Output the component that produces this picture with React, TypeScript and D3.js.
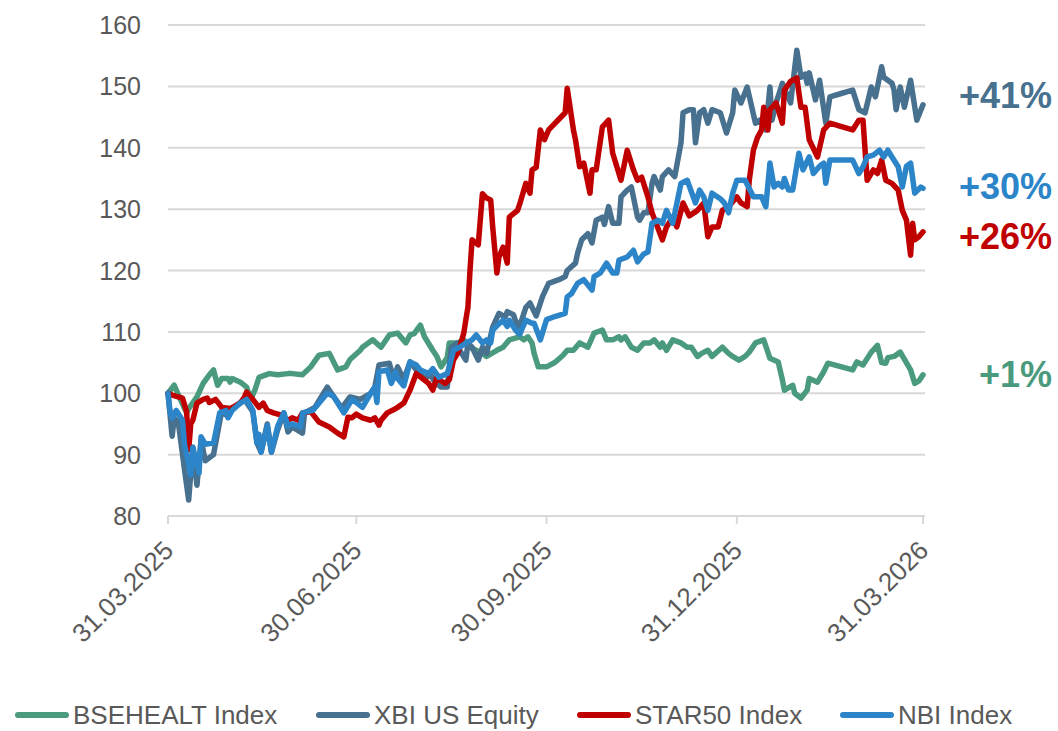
import { useEffect, useRef } from "react";
import * as d3 from "d3";

// day offset from 31.03.2025, index level (rebased to 100)
const bsehealt: [number, number][] = [
  [0, 100], [3, 101.3], [6, 99], [9, 96.8], [10, 97.5], [14, 99.4], [17, 101.6], [20, 103], [22, 103.8],
  [24, 101.3], [26, 102.4], [29, 102.4], [30, 101.8], [31, 102.4], [35, 101.8], [38, 101], [40, 99],
  [42, 100.5], [44, 102.6], [49, 103.2], [53, 103], [58, 103.2], [60, 103.2], [65, 103], [69, 104.3],
  [73, 106.2], [78, 106.5], [82, 103.8], [86, 104.3], [88, 105.5], [93, 107], [94, 107.5], [99, 108.7],
  [103, 107.5], [107, 109.5], [111, 109.8], [115, 108.2], [117, 109.5], [119, 109.7], [122, 111.1],
  [124, 109.2], [128, 107], [130, 106], [132, 104.3], [135, 105.8], [136, 108.2], [140, 108.2],
  [143, 108.7], [146, 107.5], [149, 107], [152, 106.5], [154, 106], [159, 107], [162, 107.5],
  [165, 108.7], [170, 109.2], [172, 108.7], [174, 109.2], [176, 108.2], [177, 106.5], [179, 104.3],
  [183, 104.3], [187, 105], [191, 106.2], [193, 107], [196, 107], [199, 108.2], [203, 107.5],
  [206, 109.8], [210, 110.3], [212, 108.7], [215, 108.7], [218, 109.2], [219, 108.7], [221, 109.2],
  [224, 107.5], [227, 107], [230, 108.2], [233, 108.2], [235, 108.7], [238, 107.5], [239, 108.2],
  [241, 107], [244, 108.7], [248, 108.2], [251, 107.5], [253, 107.5], [256, 106], [258, 106.5],
  [261, 107], [263, 106], [268, 107.5], [271, 106.5], [273, 106], [276, 105.4], [279, 106],
  [281, 106.7], [284, 108.2], [288, 108.7], [291, 105.7], [295, 105.1], [297, 102.2], [298, 100.5],
  [302, 101.3], [303, 100], [306, 99.2], [309, 100.5], [310, 102.4], [314, 101.8], [317, 103.5],
  [319, 104.9], [331, 103.8], [333, 105.1], [336, 104.6], [340, 106.7], [343, 107.8], [345, 105],
  [347, 104.9], [348, 105.8], [351, 106], [354, 106.7], [359, 103.8], [361, 101.6], [363, 102],
  [365, 103],
];

const xbi: [number, number][] = [
  [0, 100], [2, 93], [3, 96], [5, 95.2], [8, 87.5], [10, 82.6], [12, 91.2], [14, 85], [16, 92.4],
  [18, 89], [22, 90], [26, 97.2], [28, 96.5], [33, 98], [37, 99], [41, 97], [43, 91.9], [45, 90.4],
  [48, 95], [50, 90.4], [53, 94], [56, 96.8], [58, 93.7], [60, 94.5], [65, 93.5], [66, 96.8],
  [71, 97.7], [77, 101], [79, 100], [84, 97.6], [88, 99.4], [93, 99], [98, 100], [100, 101],
  [102, 104.6], [107, 104.9], [109, 102.4], [111, 104.3], [114, 102.2], [117, 105.1], [120, 103.8],
  [124, 102.4], [127, 103], [129, 101.8], [132, 101], [135, 101], [137, 107.5], [140, 108.2],
  [141, 107], [144, 105.4], [145, 108.2], [147, 107.5], [150, 105.4], [152, 107.5], [154, 106.5],
  [157, 110.8], [160, 113], [163, 112.4], [164, 113.3], [167, 112.8], [169, 110.8], [171, 111.9],
  [173, 114], [175, 114.7], [178, 112.6], [181, 115.7], [184, 117.9], [189, 118.5], [192, 119],
  [193, 120], [197, 121.2], [198, 122.8], [200, 125], [203, 126], [205, 124.5], [207, 128.2],
  [210, 128.7], [211, 127.5], [213, 130.4], [215, 127.7], [218, 127.7], [219, 132], [222, 133.1],
  [224, 133.6], [227, 128.7], [228, 128.2], [230, 129.4], [232, 129.4], [234, 134.2], [235, 135.3],
  [238, 133.1], [239, 135.3], [242, 136.4], [245, 135.3], [248, 140.8], [249, 145.7], [252, 146.2],
  [254, 146.2], [255, 140.8], [257, 145.7], [259, 146.2], [261, 144], [263, 146.2], [267, 145.7],
  [270, 142.4], [273, 145.7], [274, 149.4], [277, 147.3], [280, 149.9], [284, 144], [286, 144.5],
  [289, 142.9], [291, 149.9], [292, 144.5], [294, 147.3], [297, 150.5], [301, 147.3], [304, 155.9],
  [306, 151.5], [308, 152], [309, 150.5], [310, 152.2], [313, 147.8], [315, 151], [318, 144],
  [320, 148.3], [325, 148.8], [331, 149.4], [334, 146.2], [337, 145.7], [340, 149.9], [342, 148.3],
  [345, 153.2], [346, 151.5], [350, 150.5], [351, 149.4], [352, 146.2], [354, 149.9], [356, 146.6],
  [359, 151], [362, 144.5], [365, 147],
];

const star50: [number, number][] = [
  [0, 100], [2, 99.7], [7, 99.2], [9, 97], [10, 90.8], [11, 95], [12, 95.6], [14, 98.4], [17, 99],
  [19, 99.2], [20, 98.5], [23, 99], [26, 97.7], [30, 97.5], [35, 98.4], [37, 99.4], [38, 100.2],
  [41, 99], [44, 97.7], [46, 98.4], [48, 97.2], [51, 96.8], [54, 96.5], [58, 95.6], [60, 96],
  [63, 95.6], [65, 96.8], [69, 97], [73, 95.3], [78, 94.5], [82, 93.5], [85, 92.9], [87, 96.1],
  [89, 96], [91, 96.6], [94, 96], [98, 95.6], [100, 96], [102, 94.8], [103, 95.6], [106, 96.8],
  [109, 97.3], [111, 97.7], [114, 98.4], [117, 100.5], [120, 103.2], [123, 102.4], [126, 101.6],
  [128, 100.5], [130, 102.6], [131, 102.2], [134, 101.6], [136, 102.2], [138, 105.4], [140, 106.5],
  [141, 107.5], [143, 109.8], [144, 112], [145, 114], [146, 120], [147, 125], [150, 124.2],
  [152, 132.5], [154, 131.8], [156, 131.5], [157, 127], [159, 119.6], [160, 122.2], [162, 123.8],
  [164, 121.2], [165, 128.7], [169, 129.8], [170, 130.8], [173, 134.2], [175, 132.6], [176, 136.4],
  [178, 136.8], [180, 142.9], [182, 141.3], [184, 142.9], [192, 145.7], [193, 149.7], [196, 142.9],
  [197, 141.3], [199, 136.9], [201, 137.5], [204, 132.6], [205, 136.4], [207, 136.4], [210, 143.4],
  [213, 144.5], [215, 139.1], [219, 134.7], [222, 139.6], [225, 136.4], [227, 134.7], [229, 135.2],
  [232, 132], [234, 129.4], [239, 125], [241, 127.1], [244, 128.7], [246, 127.1], [249, 131],
  [252, 128.9], [256, 129.8], [259, 131], [261, 125.5], [263, 127.1], [266, 127.1], [268, 129.8],
  [271, 130.4], [275, 132], [277, 131], [280, 130.4], [281, 134.7], [283, 139.6], [285, 141.7],
  [287, 142.9], [288, 146.6], [290, 142.9], [291, 146.2], [294, 147.3], [297, 144], [298, 149.4],
  [301, 150.8], [304, 151.4], [306, 146.6], [308, 146.6], [310, 141.3], [314, 138.5], [317, 142.9],
  [320, 144], [326, 143.4], [331, 142.9], [334, 144.5], [336, 144.5], [338, 134.7], [341, 136.4],
  [343, 135.8], [345, 138], [347, 134.7], [350, 134.2], [353, 133.1], [355, 129.8], [357, 128.2],
  [359, 122.5], [360, 127.7], [361, 125], [363, 125.5], [365, 126.3],
];

const nbi: [number, number][] = [
  [0, 100], [1, 97], [2, 96], [4, 97.2], [7, 95.6], [8, 91.6], [11, 86.7], [12, 91.2], [15, 87],
  [16, 92.9], [18, 91.7], [22, 91.9], [25, 96.8], [28, 97.2], [29, 96], [31, 97.2], [35, 98.4],
  [38, 99], [41, 97.2], [43, 91.9], [44, 93.3], [45, 90.4], [48, 94.7], [50, 90.4], [53, 94.6],
  [56, 96.8], [58, 94.6], [60, 95], [64, 94.5], [65, 96.8], [70, 97.2], [77, 100], [80, 99.5],
  [85, 96.8], [89, 99], [91, 98.5], [94, 97.7], [98, 100], [100, 101], [101, 98.5], [102, 103.5],
  [106, 103.8], [108, 101.6], [110, 103.5], [111, 102.4], [114, 101.2], [117, 105.1], [120, 104.6],
  [122, 103.8], [126, 103.2], [128, 104], [131, 102.6], [135, 103.2], [136, 104.3], [138, 107],
  [141, 107.5], [144, 108.2], [147, 108.7], [149, 109.5], [152, 108.2], [154, 108.7], [156, 108.2],
  [157, 110.3], [159, 111], [162, 111.9], [164, 110.9], [165, 111.9], [168, 110.3], [170, 109.6],
  [173, 111.9], [176, 111.4], [177, 111.4], [180, 108.7], [183, 112], [187, 112.5], [192, 113],
  [193, 115.7], [195, 116.2], [198, 117.9], [201, 118.5], [205, 116.8], [206, 119], [209, 119.6],
  [212, 121.2], [215, 119.6], [217, 119.6], [218, 121.7], [222, 122.2], [225, 123.3], [227, 121.4],
  [230, 122.7], [232, 123], [234, 127.7], [237, 128.2], [239, 127.7], [241, 129.8], [244, 127.7],
  [248, 134.2], [251, 134.7], [255, 131], [257, 133.1], [259, 132], [261, 129.8], [263, 132.6],
  [267, 131.7], [269, 131], [271, 129.4], [273, 132.6], [275, 134.7], [279, 134.7], [283, 132],
  [287, 132], [289, 130.4], [291, 137.5], [293, 133.6], [295, 134.2], [297, 133.6], [298, 135],
  [300, 133.1], [302, 133.1], [305, 139.1], [307, 136.4], [310, 138.5], [312, 135.8], [315, 137],
  [317, 137.5], [318, 134.2], [320, 138], [328, 138], [331, 138], [334, 135.8], [336, 136.9],
  [338, 138.5], [341, 138.8], [344, 139.6], [346, 138.5], [348, 139.6], [350, 138.5], [353, 136.9],
  [355, 133.6], [357, 137], [359, 137.5], [361, 132.6], [364, 133.6], [365, 133.4],
];

const seriesNames = ["BSEHEALT Index", "XBI US Equity", "STAR50 Index", "NBI Index"];
const seriesColors = ["#4a9a7e", "#48708f", "#c00000", "#2b85c8"];
const endLabels = ["+1%", "+41%", "+26%", "+30%"];
const yTicks = [80, 90, 100, 110, 120, 130, 140, 150, 160];
const xTickLabels = ["31.03.2025", "30.06.2025", "30.09.2025", "31.12.2025", "31.03.2026"];

const W = 1058;
const H = 731;

function parseDmy(s: string) {
  const [d, m, y] = s.split(".").map(Number);
  return new Date(y, m - 1, d);
}

export default function App() {
  const svgRef = useRef<SVGSVGElement | null>(null);

  useEffect(() => {
    if (!svgRef.current) return;
    const svg = d3.select(svgRef.current);
    svg.selectAll("*").remove();

    const margin = { top: 25, right: 135, bottom: 215, left: 168 };
    const start = parseDmy(xTickLabels[0]);
    const end = parseDmy(xTickLabels[xTickLabels.length - 1]);

    const x = d3.scaleTime().domain([start, end]).range([margin.left, W - margin.right]);
    const y = d3.scaleLinear().domain([80, 160]).range([H - margin.bottom, margin.top]);

    const font = "'Liberation Sans', Arial, sans-serif";
    const textColor = "#595959";

    // gridlines
    svg
      .append("g")
      .selectAll("line")
      .data(yTicks)
      .join("line")
      .attr("x1", margin.left)
      .attr("x2", W - margin.right + 2)
      .attr("y1", (d) => y(d))
      .attr("y2", (d) => y(d))
      .attr("stroke", "#d9d9d9")
      .attr("stroke-width", 2);

    // y labels
    svg
      .append("g")
      .selectAll("text")
      .data(yTicks)
      .join("text")
      .attr("x", 141)
      .attr("y", (d) => y(d))
      .attr("dy", "0.36em")
      .attr("text-anchor", "end")
      .attr("font-family", font)
      .attr("font-size", 25)
      .attr("fill", textColor)
      .text((d) => d);

    // x ticks + labels
    const tickDates = xTickLabels.map(parseDmy);
    const xg = svg.append("g");
    xg.selectAll("line")
      .data(tickDates)
      .join("line")
      .attr("x1", (d) => x(d))
      .attr("x2", (d) => x(d))
      .attr("y1", y(80))
      .attr("y2", y(80) + 8)
      .attr("stroke", "#d9d9d9")
      .attr("stroke-width", 2);

    xg.selectAll("text")
      .data(tickDates)
      .join("text")
      .attr("transform", (d) => `translate(${x(d) + 7},${y(80) + 36}) rotate(-45)`)
      .attr("text-anchor", "end")
      .attr("font-family", font)
      .attr("font-size", 26)
      .attr("fill", textColor)
      .text((_, i) => xTickLabels[i]);

    // lines
    const all = [bsehealt, xbi, star50, nbi];
    const line = d3
      .line<[number, number]>()
      .x((d) => x(d3.timeDay.offset(start, d[0])))
      .y((d) => y(d[1]));

    all.forEach((s, i) => {
      svg
        .append("path")
        .datum(s)
        .attr("d", line)
        .attr("fill", "none")
        .attr("stroke", seriesColors[i])
        .attr("stroke-width", 5.5)
        .attr("stroke-linejoin", "round")
        .attr("stroke-linecap", "round");
    });

    // end labels
    const labelY = [374, 95, 236, 186];
    svg
      .append("g")
      .selectAll("text")
      .data(endLabels)
      .join("text")
      .attr("x", 1052)
      .attr("y", (_, i) => labelY[i])
      .attr("dy", "0.36em")
      .attr("text-anchor", "end")
      .attr("font-family", font)
      .attr("font-size", 36)
      .attr("font-weight", "bold")
      .attr("fill", (_, i) => seriesColors[i])
      .text((d) => d);

    // legend
    const legendX = [15, 316, 577, 840];
    const lg = svg
      .append("g")
      .selectAll("g")
      .data(seriesNames)
      .join("g")
      .attr("transform", (_, i) => `translate(${legendX[i]},715)`);
    lg.append("line")
      .attr("x1", 3)
      .attr("x2", 51)
      .attr("stroke", (_, i) => seriesColors[i])
      .attr("stroke-width", 6)
      .attr("stroke-linecap", "round");
    lg.append("text")
      .attr("x", 58)
      .attr("dy", "0.34em")
      .attr("font-family", font)
      .attr("font-size", 26)
      .attr("fill", textColor)
      .text((d) => d);
  }, []);

  return (
    <svg
      ref={svgRef}
      width={W}
      height={H}
      style={{ position: "absolute", left: 0, top: 0, background: "#fff" }}
    />
  );
}
